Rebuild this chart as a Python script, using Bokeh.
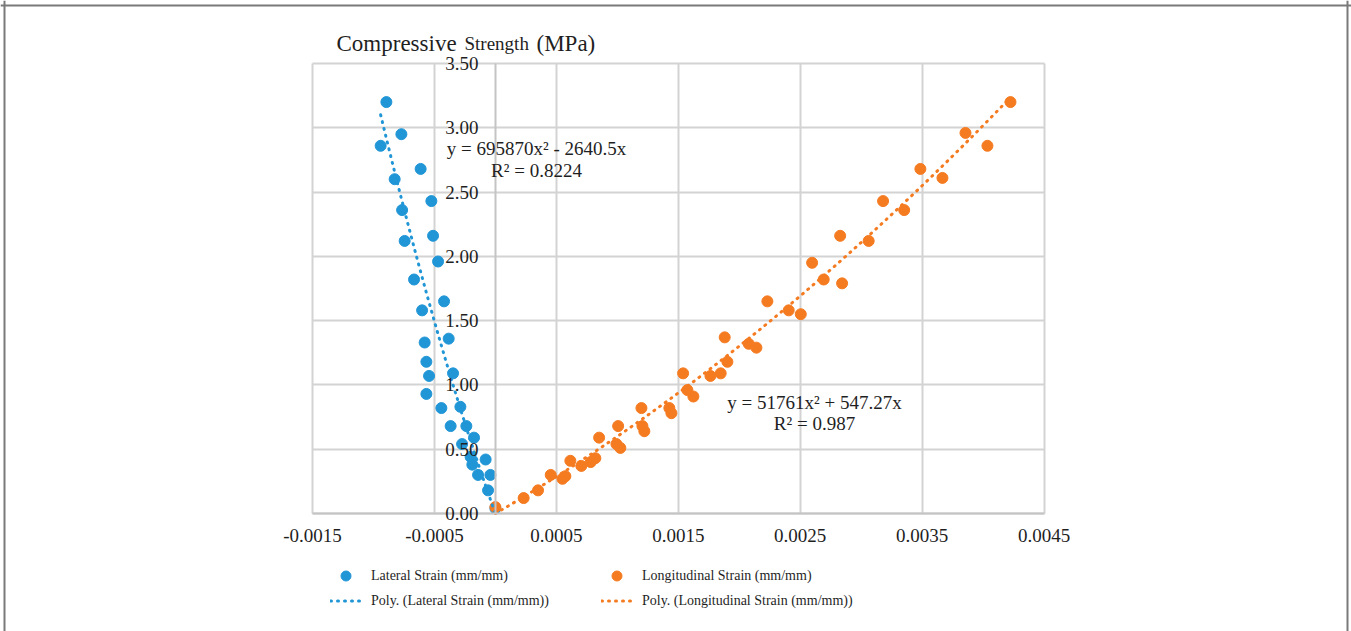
import numpy as np
from bokeh.plotting import figure
from bokeh.models import Range1d, FixedTicker, Label, Legend, LegendItem, Span
from bokeh.embed import file_html
from bokeh.resources import INLINE

# ---------------- data ----------------
lateral_strain = [-0.000894, -0.000771, -0.000941, -0.000613, -0.000826, -0.000525, -0.000765,
                  -0.000511, -0.000744, -0.000470, -0.000667, -0.000421, -0.000601, -0.000383,
                  -0.000580, -0.000566, -0.000347, -0.000544, -0.000566, -0.000443, -0.000287,
                  -0.000367, -0.000238, -0.000175, -0.000273, -0.000203, -0.000080, -0.000189,
                  -0.000142, -0.000041, -0.000060, 0.0]
lateral_stress = [3.20, 2.95, 2.86, 2.68, 2.60, 2.43, 2.36, 2.16, 2.12, 1.96,
                  1.82, 1.65, 1.58, 1.36, 1.33, 1.18, 1.09, 1.07, 0.93, 0.82,
                  0.83, 0.68, 0.68, 0.59, 0.54, 0.44, 0.42, 0.38, 0.30, 0.30,
                  0.18, 0.04]

longitudinal_strain = [0.0, 0.000232, 0.000350, 0.000454, 0.000550, 0.000574, 0.000615, 0.000705,
                       0.000782, 0.000820, 0.000851, 0.001007, 0.000993, 0.001025, 0.001198,
                       0.001206, 0.001222, 0.001427, 0.001444, 0.001540, 0.001575, 0.001624,
                       0.001764, 0.001848, 0.001903, 0.001881, 0.002078, 0.002141, 0.002231,
                       0.002406, 0.002505, 0.002598, 0.002693, 0.002844, 0.002828, 0.003062,
                       0.003180, 0.003353, 0.003486, 0.003667, 0.003856, 0.004036, 0.004225]
longitudinal_stress = [0.05, 0.12, 0.18, 0.30, 0.27, 0.29, 0.41, 0.37, 0.40, 0.43,
                       0.59, 0.68, 0.54, 0.51, 0.82, 0.68, 0.64, 0.82, 0.78, 1.09,
                       0.96, 0.91, 1.07, 1.09, 1.18, 1.37, 1.32, 1.29, 1.65, 1.58,
                       1.55, 1.95, 1.82, 1.79, 2.16, 2.12, 2.43, 2.36, 2.68, 2.61,
                       2.96, 2.86, 3.20]

# polynomial trendline coefficients shown on the chart (y = a*x^2 + b*x)
lateral_fit = [695870.0, -2640.5]
longitudinal_fit = [51761.0, 547.27]

x_tick_values = [-0.0015, -0.0005, 0.0005, 0.0015, 0.0025, 0.0035, 0.0045]
x_tick_labels = ["-0.0015", "-0.0005", "0.0005", "0.0015", "0.0025", "0.0035", "0.0045"]
y_tick_values = [0.0, 0.5, 1.0, 1.5, 2.0, 2.5, 3.0, 3.5]
y_tick_labels = ["0.00", "0.50", "1.00", "1.50", "2.00", "2.50", "3.00", "3.50"]

title_parts = ["Compressive", "Strength", "(MPa)"]
series_names = ["Lateral Strain (mm/mm)", "Longitudinal Strain (mm/mm)"]
fit_names = ["Poly. (Lateral Strain (mm/mm))", "Poly. (Longitudinal Strain (mm/mm))"]
eq_lateral = ["y = 695870x\u00b2 - 2640.5x", "R\u00b2 = 0.8224"]
eq_longitudinal = ["y = 51761x\u00b2 + 547.27x", "R\u00b2 = 0.987"]

BLUE = "#2196d6"
ORANGE = "#f57b21"
SERIF = "Liberation Serif"
TXT = "#1f1f1f"
GRID = "#d3d3d3"

# ---------------- layout geometry (pixels) ----------------
W, H = 1351, 631
PX_LEFT, PX_RIGHT = 312.0, 1043.5      # pixel columns of first/last x tick
PY_BOTTOM, PY_TOP = 513.0, 63.0        # pixel rows of y = 0 and y = 3.5

xmin_t, xmax_t = x_tick_values[0], x_tick_values[-1]
ymin_t, ymax_t = y_tick_values[0], y_tick_values[-1]
sx = (PX_RIGHT - PX_LEFT) / (xmax_t - xmin_t)
sy = (PY_BOTTOM - PY_TOP) / (ymax_t - ymin_t)
x0 = xmin_t - PX_LEFT / sx
x1 = xmax_t + (W - PX_RIGHT) / sx
y0 = ymin_t - (H - PY_BOTTOM) / sy
y1 = ymax_t + PY_TOP / sy

# ---------------- figure ----------------
p = figure(width=W, height=H, output_backend="svg", toolbar_location=None,
           x_range=Range1d(x0, x1), y_range=Range1d(y0, y1),
           min_border=0, min_border_left=0, min_border_right=0,
           min_border_top=0, min_border_bottom=0)
p.outline_line_color = None
p.background_fill_color = "white"
p.border_fill_color = "white"

p.xaxis.ticker = FixedTicker(ticks=x_tick_values)
p.yaxis.ticker = FixedTicker(ticks=y_tick_values)
p.xaxis.major_label_overrides = {v: s for v, s in zip(x_tick_values, x_tick_labels)}
p.yaxis.major_label_overrides = {v: s for v, s in zip(y_tick_values, y_tick_labels)}
p.xaxis.fixed_location = 0
p.yaxis.fixed_location = 0
p.xaxis.bounds = (xmin_t, xmax_t)
p.yaxis.bounds = (ymin_t, ymax_t)

for ax in (p.xaxis[0], p.yaxis[0]):
    ax.major_tick_line_color = None
    ax.minor_tick_line_color = None
    ax.major_tick_out = 0
    ax.major_tick_in = 0
    ax.axis_line_color = "#c4c4c4"
    ax.axis_line_width = 2
    ax.major_label_text_font = SERIF
    ax.major_label_text_font_size = "19px"
    ax.major_label_text_color = TXT
p.yaxis.major_label_standoff = 17
p.xaxis.major_label_standoff = 15

# grid lines limited to the plotting area
grid_ok = True
try:
    p.xgrid.cross_bounds = (ymin_t, ymax_t)
    p.ygrid.cross_bounds = (xmin_t, xmax_t)
    p.xgrid.bounds = (xmin_t, xmax_t)
    p.ygrid.bounds = (ymin_t, ymax_t)
except Exception:
    grid_ok = False

if grid_ok:
    for g in (p.xgrid[0], p.ygrid[0]):
        g.grid_line_color = GRID
        g.grid_line_width = 2
else:
    p.xgrid.visible = False
    p.ygrid.visible = False
    p.segment(x0=x_tick_values, y0=[ymin_t] * len(x_tick_values),
              x1=x_tick_values, y1=[ymax_t] * len(x_tick_values),
              line_color=GRID, line_width=2)
    p.segment(x0=[xmin_t] * len(y_tick_values), y0=y_tick_values,
              x1=[xmax_t] * len(y_tick_values), y1=y_tick_values,
              line_color=GRID, line_width=2)

# outer chart border (left, top, right)
BORDER = "#7a7a7a"
p.add_layout(Span(location=x0 + 4 / sx, dimension="height", line_color=BORDER, line_width=2))
p.add_layout(Span(location=x0 + 1347 / sx, dimension="height", line_color=BORDER, line_width=2))
p.add_layout(Span(location=y1 - 5 / sy, dimension="width", line_color=BORDER, line_width=2))

# ---------------- glyphs ----------------
r_lat = p.scatter(lateral_strain, lateral_stress, size=11, marker="circle",
                  fill_color=BLUE, line_color=BLUE)
r_long = p.scatter(longitudinal_strain, longitudinal_stress, size=11, marker="circle",
                   fill_color=ORANGE, line_color=ORANGE)

xs_lat = np.linspace(min(lateral_strain), max(lateral_strain), 200)
ys_lat = lateral_fit[0] * xs_lat ** 2 + lateral_fit[1] * xs_lat
xs_long = np.linspace(min(longitudinal_strain), max(longitudinal_strain), 400)
ys_long = longitudinal_fit[0] * xs_long ** 2 + longitudinal_fit[1] * xs_long

r_lat_fit = p.line(xs_lat, ys_lat, line_color=BLUE, line_width=3, line_dash="1 6",
                   line_cap="round")
r_long_fit = p.line(xs_long, ys_long, line_color=ORANGE, line_width=3, line_dash="1 6",
                    line_cap="round")

# ---------------- title (screen units: from frame bottom-left) ----------------
def lab(text, x, y, size, align="left", baseline="alphabetic"):
    p.add_layout(Label(x=x, y=y, x_units="screen", y_units="screen", text=text,
                       text_font=SERIF, text_font_size=size, text_color=TXT,
                       text_align=align, text_baseline=baseline))

lab(title_parts[0], 336, H - 43, "23px")
lab(title_parts[1], 464, H - 43, "19px")
lab(title_parts[2], 536, H - 43, "23px")

# ---------------- trendline equations ----------------
lab(eq_lateral[0], 536, H - 148, "19px", "center", "middle")
lab(eq_lateral[1], 536, H - 170, "19px", "center", "middle")
lab(eq_longitudinal[0], 814, H - 402, "19px", "center", "middle")
lab(eq_longitudinal[1], 814, H - 423, "19px", "center", "middle")

# ---------------- legends ----------------
def make_legend(items, loc):
    return Legend(items=items, location=loc, padding=0, margin=0, spacing=0,
                  glyph_width=31, glyph_height=25, label_height=25, label_standoff=10,
                  border_line_color=None, background_fill_alpha=0,
                  label_text_font=SERIF, label_text_font_size="14px",
                  label_text_color=TXT)

leg1 = make_legend([LegendItem(label=series_names[0], renderers=[r_lat]),
                    LegendItem(label=fit_names[0], renderers=[r_lat_fit])], (330, H - 613))
leg2 = make_legend([LegendItem(label=series_names[1], renderers=[r_long]),
                    LegendItem(label=fit_names[1], renderers=[r_long_fit])], (601, H - 613))
p.add_layout(leg1)
p.add_layout(leg2)

open("out.html", "w").write(file_html(p, INLINE))
